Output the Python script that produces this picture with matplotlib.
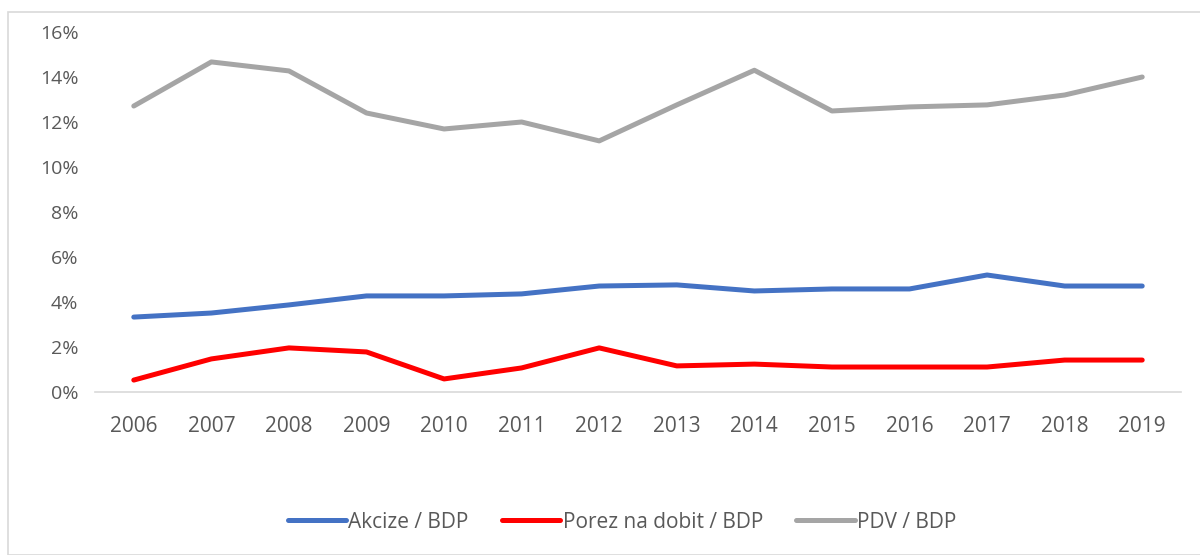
import matplotlib
matplotlib.use("Agg")
import matplotlib.pyplot as plt
from matplotlib.patches import Rectangle
from matplotlib.ticker import FuncFormatter

# values (share of GDP, %)
years = [2006, 2007, 2008, 2009, 2010, 2011, 2012, 2013, 2014, 2015, 2016, 2017, 2018, 2019]
akcize = [3.33, 3.51, 3.87, 4.27, 4.27, 4.36, 4.71, 4.76, 4.49, 4.58, 4.58, 5.20, 4.71, 4.71]
porez_dobit = [0.53, 1.47, 1.96, 1.78, 0.58, 1.07, 1.96, 1.16, 1.24, 1.11, 1.11, 1.11, 1.42, 1.42]
pdv = [12.71, 14.67, 14.27, 12.40, 11.69, 12.00, 11.16, 12.76, 14.30, 12.49, 12.67, 12.76, 13.20, 14.00]
labels = ["Akcize / BDP", "Porez na dobit / BDP", "PDV / BDP"]

plt.rcParams["font.family"] = ["Open Sans", "DejaVu Sans"]

fig = plt.figure(figsize=(12, 5.55), dpi=100)
ax = fig.add_axes([95 / 1200, 1 - 392 / 555, (1181 - 95) / 1200, 360 / 555])

x = list(range(len(years)))
ax.plot(x, akcize, color="#4472c4", lw=3.6, solid_capstyle="round", label=labels[0])
ax.plot(x, porez_dobit, color="#ff0000", lw=3.6, solid_capstyle="round", label=labels[1])
ax.plot(x, pdv, color="#a5a5a5", lw=3.6, solid_capstyle="round", label=labels[2])

ax.set_xlim(-0.5, len(years) - 0.5)
ax.set_ylim(0, 16)
ax.set_yticks(range(0, 17, 2))
ax.yaxis.set_major_formatter(FuncFormatter(lambda v, p: f"{int(v)}%"))
ax.set_xticks(x)
ax.set_xticklabels([str(y) for y in years])

for s in ["top", "right", "left"]:
    ax.spines[s].set_visible(False)
ax.spines["bottom"].set_color("#d9d9d9")
ax.spines["bottom"].set_linewidth(1.2)
ax.tick_params(axis="both", length=0, colors="#595959")
ax.tick_params(axis="y", pad=12, labelsize=14)
ax.tick_params(axis="x", pad=17, labelsize=15)

fig.legend(loc="center", bbox_to_anchor=(622 / 1200, 1 - 522 / 555), ncol=3,
           frameon=False, fontsize=15, labelcolor="#595959",
           handlelength=2.8, handletextpad=0.1, columnspacing=1.6)

# chart frame
fig.patches.append(Rectangle((8 / 1200, 0), 1.2, 1 - 12 / 555, transform=fig.transFigure,
                             fill=False, edgecolor="#d9d9d9", lw=1.2))

fig.savefig("out.png", dpi=100)
